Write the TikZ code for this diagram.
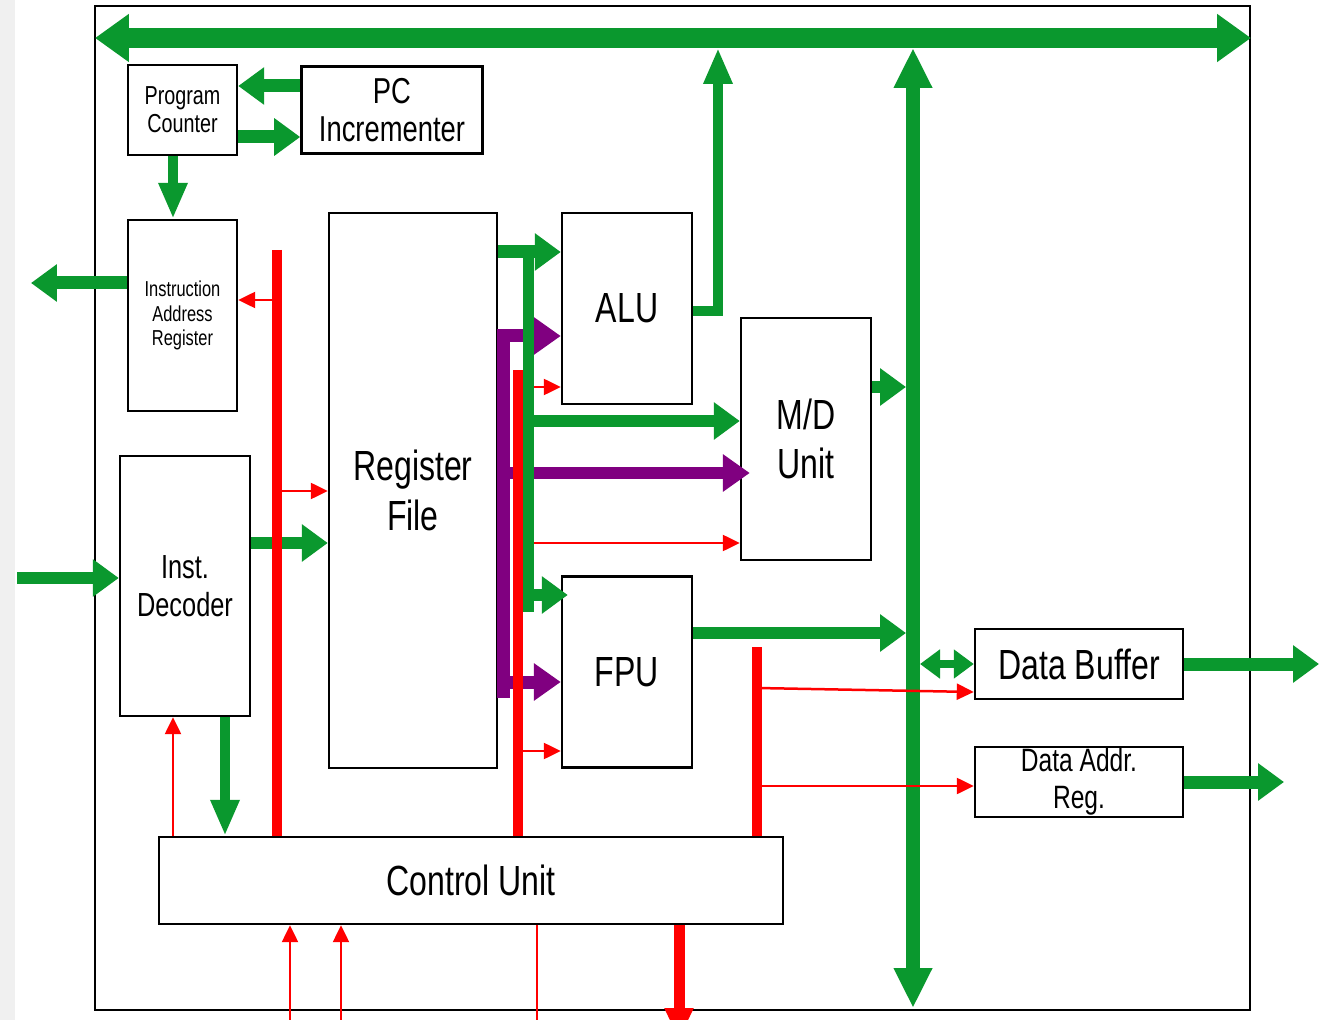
\documentclass[tikz,border=0pt]{standalone}
\usepackage{fontspec}
\setmainfont[FakeStretch=0.76]{Liberation Sans}
\usepackage{xcolor}
\definecolor{cpugreen}{RGB}{10,152,46}
\definecolor{cpured}{RGB}{255,0,0}
\definecolor{cpupurple}{RGB}{128,0,128}
\definecolor{sidegray}{RGB}{240,240,240}
\usetikzlibrary{arrows.meta,positioning}
\tikzset{
  cpu_frame/.style={rectangle,draw=black,line width=0.04cm,
    minimum width=23.1cm,minimum height=20.08cm,inner sep=0pt},
  cpu_blk/.style={rectangle,draw=black,line width=0.05cm,fill=white,
    inner sep=0pt,align=center,
    font=\fontsize{24}{28}\selectfont},
  gbus/.style={draw=cpugreen,line width=0.4cm,
    {Triangle[length=0.68cm,width=0.92cm]}-{Triangle[length=0.68cm,width=0.92cm]}},
  gvbus/.style={draw=cpugreen,line width=0.28cm,
    {Triangle[length=0.8cm,width=0.72cm]}-{Triangle[length=0.8cm,width=0.72cm]}},
  garr/.style={draw=cpugreen,line width=0.26cm,
    -{Triangle[length=0.52cm,width=0.72cm]}},
  gdown/.style={draw=cpugreen,line width=0.19cm,
    -{Triangle[length=0.72cm,width=0.54cm]}},
  gline/.style={draw=cpugreen,line width=0.22cm},
  gdbl/.style={draw=cpugreen,line width=0.16cm,
    {Triangle[length=0.4cm,width=0.56cm]}-{Triangle[length=0.4cm,width=0.56cm]}},
  parr/.style={draw=cpupurple,line width=0.26cm,line join=miter,
    -{Triangle[length=0.54cm,width=0.72cm]}},
  rbus/.style={draw=cpured,line width=0.2cm},
  rbusarr/.style={draw=cpured,line width=0.22cm,
    -{Triangle[length=0.64cm,width=0.54cm]}},
  rarr/.style={draw=cpured,line width=0.05cm,
    -{Triangle[length=0.34cm,width=0.32cm]}},
  rline/.style={draw=cpured,line width=0.05cm},
}

\begin{document}
\begin{tikzpicture}[x=0.02cm,y=-0.02cm]
  \useasboundingbox (0,0) rectangle (1319,1020);
  \fill[white] (0,0) rectangle (1319,1020);
  \fill[sidegray] (0,0) rectangle (15,1020);
  \node (chip) [cpu_frame] at (672.5,508) {};

  % Fetch side
  \node (pc) [cpu_blk,minimum width=2.18cm,minimum height=1.8cm,
    font=\fontsize{14.8}{16}\selectfont] at (182.5,110)
    {Program\\Counter};
  \node (pcinc) [cpu_blk,minimum width=3.62cm,minimum height=1.74cm,
    font=\fontsize{20.5}{22}\selectfont,right=1.24cm of pc]
    {PC\\Incrementer};
  \node (iar) [cpu_blk,minimum width=2.18cm,minimum height=3.82cm,
    font=\fontsize{12.3}{14}\selectfont] at (182.5,315.5)
    {Instruction\\Address\\Register};
  \node (idec) [cpu_blk,minimum width=2.6cm,minimum height=5.2cm,
    font=\fontsize{19}{21.5}\selectfont] at (185,586)
    {Inst.\\Decoder};
  % Execution units
  \node (rf) [cpu_blk,minimum width=3.36cm,minimum height=11.1cm] at (413,490.5)
    {Register\\File};
  \node (alu) [cpu_blk,minimum width=2.6cm,minimum height=3.82cm] at (627,308.5)
    {ALU};
  \node (fpu) [cpu_blk,minimum width=2.6cm,minimum height=3.82cm,
    below=3.4cm of alu] {FPU};
  \node (md) [cpu_blk,minimum width=2.6cm,minimum height=4.84cm] at (806,439)
    {M/D\\Unit};
  \node (cu) [cpu_blk,minimum width=12.48cm,minimum height=1.74cm] at (471,880.5)
    {Control Unit};
  % Memory interface
  \node (dbuf) [cpu_blk,minimum width=4.16cm,minimum height=1.4cm] at (1079,664)
    {Data Buffer};
  \node (dar) [cpu_blk,minimum width=4.16cm,minimum height=1.4cm,
    font=\fontsize{18.4}{21}\selectfont] at (1079,782)
    {Data Addr.\\Reg.};

  % Bus coordinates
  \coordinate (bus_l) at (95,38);
  \coordinate (bus_r) at (1251,38);
  \coordinate (vbus_t) at (913,48);
  \coordinate (vbus_b) at (913,1008);
  \coordinate (vbus_l) at (906,0);
  \coordinate (vbus_r) at (920,0);
  \coordinate (alu_up) at (718,48);
  \coordinate (gcol_t) at (528,252);
  \coordinate (gcol_b) at (528,612);
  \coordinate (pcol_b) at (503,698);
  \coordinate (rcol_a) at (277,250);
  \coordinate (rcol_b) at (518,370);
  \coordinate (rcol_c) at (757,647);
  \coordinate (iar_out) at (31,283);
  \coordinate (id_in) at (17,578);
  \coordinate (db_out) at (1319,664);
  \coordinate (dar_out) at (1284,782);
  \coordinate (cu_in_a) at (290,1020);
  \coordinate (cu_in_b) at (341,1020);
  \coordinate (cu_out_a) at (537,1020);
  \coordinate (cu_out_b) at (679,1040);

  % Purple operand paths
  \draw[parr] (pcol_b) -- (pcol_b |- 0,336) -- (alu.west |- 0,336);
  \draw[parr] (pcol_b |- 0,473) -- ([xshift=0.2cm]md.west |- 0,473);
  \draw[parr] (pcol_b |- 0,682) -- (fpu.west |- 0,682);

  % Green data paths (under the red lines)
  \draw[gbus] (bus_l) -- (bus_r);
  \draw[gvbus] (vbus_b) -- (vbus_t);
  \draw[garr] (pcinc.west |- 0,86) -- (pc.east |- 0,86);
  \draw[garr] (pc.east |- 0,137) -- (pcinc.west |- 0,137);
  \draw[gdown] (173,0 |- pc.south) -- (173,0 |- iar.north);
  \draw[garr] (iar.west |- 0,283) -- (iar_out);
  \draw[garr] (id_in) -- (idec.west |- 0,578);
  \draw[garr] (idec.east |- 0,543) -- (rf.west |- 0,543);
  \draw[gdown] (225,0 |- idec.south) -- (225,0 |- cu.north);
  \draw[gdown] (alu.east |- 0,311) -| (alu_up);
  \draw[garr] (md.east |- 0,387) -- (vbus_l |- 0,387);
  \draw[garr] (fpu.east |- 0,633) -- (vbus_l |- 0,633);
  \draw[gdbl] (vbus_r |- dbuf.west) -- (dbuf.west);
  \draw[garr] (dbuf.east) -- (db_out);
  \draw[garr] (dar.east |- dar_out) -- (dar_out);

  % Red control lines
  \draw[rbus] (rcol_a) -- (rcol_a |- cu.north);
  \draw[rarr] (rcol_a |- 0,300) -- (iar.east |- 0,300);
  \draw[rarr] (rcol_a |- 0,491) -- (rf.west |- 0,491);
  \draw[rbus] (rcol_b) -- (rcol_b |- cu.north);
  \draw[rarr] (rcol_b |- 0,387) -- (alu.west |- 0,387);
  \draw[rarr] (rcol_b |- 0,543) -- (md.west |- 0,543);
  \draw[rarr] (rcol_b |- 0,751) -- (fpu.west |- 0,751);
  \draw[rbus] (rcol_c) -- (rcol_c |- cu.north);
  \draw[rarr] (rcol_c |- 0,688) -- (dbuf.west |- 0,692);
  \draw[rarr] (rcol_c |- 0,786) -- (dar.west |- 0,786);
  \draw[rarr] (173,0 |- cu.north) -- (173,0 |- idec.south);
  \draw[rarr] (cu_in_a) -- (cu_in_a |- cu.south);
  \draw[rarr] (cu_in_b) -- (cu_in_b |- cu.south);
  \draw[rline] (cu_out_a |- cu.south) -- (cu_out_a);
  \draw[rbusarr] (cu_out_b |- cu.south) -- (cu_out_b);

  % Green column beside the register file (on top)
  \draw[gline] (gcol_t) -- (gcol_b);
  \draw[garr] (rf.east |- gcol_t) -- (alu.west |- gcol_t);
  \draw[garr] (gcol_t |- 0,421) -- (md.west |- 0,421);
  \draw[garr] (gcol_t |- 0,595) -- ([xshift=0.14cm]fpu.west |- 0,595);
\end{tikzpicture}
\end{document}
